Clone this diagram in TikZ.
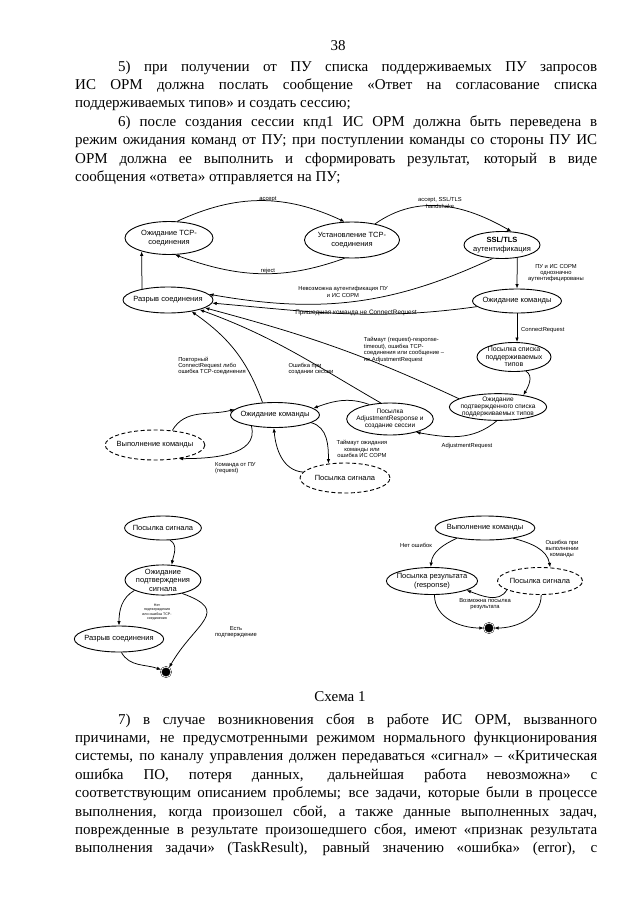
\documentclass[tikz,border=0pt]{standalone}
\usepackage{fontspec}
\setmainfont{Liberation Serif}
\newfontfamily\schemefont{Liberation Sans}
\usetikzlibrary{shapes.geometric,arrows.meta}

\begin{document}
\begin{tikzpicture}[x=1pt,y=1pt,
    sost/.style={ellipse,draw,line width=0.9pt,inner xsep=-3pt,inner ysep=-0.5pt,align=center,
      font=\schemefont\fontsize{7.5}{8.5}\selectfont},
    dsost/.style={sost,dash pattern=on 4pt off 2.5pt},
    lbl/.style={inner sep=0pt,align=center,font=\schemefont\fontsize{5.8}{6.4}\selectfont},
    tr/.style={-{Latex[length=4.5pt,width=3.5pt]},line width=0.75pt},
    fin/.style={circle,fill=black,draw=black,double=white,double distance=0.8pt,
      minimum size=10pt,inner sep=0pt},
    body/.style={anchor=north west,inner sep=0pt,text width=522pt,align=justify,
      font=\fontsize{15}{18.4}\selectfont}]
  \useasboundingbox (0,0) rectangle (640,-905);

  % page text
  \node[anchor=base] (pagenum) at (338,-50) {\fontsize{15}{18}\selectfont 38};
  \node[body] (textabove) at (75,-58) {\tolerance=9999\hbadness=10000\hyphenpenalty=10000
    \strut\hspace*{43pt}5)\ при получении от ПУ списка поддерживаемых ПУ запросов\linebreak
    ИС ОРМ должна послать сообщение «Ответ на согласование списка\linebreak
    поддерживаемых типов» и создать сессию;\par
    \hspace*{43pt}6)\ после создания сессии кпд1 ИС ОРМ должна быть переведена в\linebreak
    режим ожидания команд от ПУ; при поступлении команды со стороны ПУ ИС\linebreak
    ОРМ должна ее выполнить и сформировать результат, который в виде\linebreak
    сообщения «ответа» отправляется на ПУ;\par};

  % upper scheme
  \node[sost,minimum width=88pt,minimum height=33pt] (tcpwait) at (169,-238) {Ожидание TCP-\\соединения};
  \node[sost,minimum width=95pt,minimum height=36pt] (tcpest) at (352,-240) {Установление TCP-\\соединения};
  \node[sost,minimum width=76pt,minimum height=27pt] (ssl) at (502,-245) {\textbf{SSL/TLS}\\аутентификация};
  \node[sost,minimum width=90pt,minimum height=26pt] (brk) at (168,-300) {Разрыв соединения};
  \node[sost,minimum width=84pt,minimum height=24pt] (cmdwait) at (517,-301) {Ожидание команды};
  \node[sost,minimum width=74pt,minimum height=29pt,
    font=\schemefont\fontsize{7}{7.4}\selectfont] (sendlist) at (514,-357) {Посылка списка\\поддерживаемых\\типов};
  \node[sost,minimum width=88pt,minimum height=26pt,
    font=\schemefont\fontsize{6.5}{7}\selectfont] (confwait) at (498,-407) {Ожидание\\подтвержденного списка\\поддерживаемых типов};
  \node[sost,minimum width=80pt,minimum height=32pt,
    font=\schemefont\fontsize{6.5}{7}\selectfont] (adjresp) at (390,-419) {Посылка\\AdjustmentResponse и\\создание сессии};
  \node[sost,minimum width=84pt,minimum height=25pt] (cmdwait2) at (275,-415) {Ожидание команды};
  \node[dsost,minimum width=92pt,minimum height=30pt] (execcmd) at (155,-445) {Выполнение команды};
  \node[dsost,minimum width=90pt,minimum height=30pt] (sigsend) at (345,-478) {Посылка сигнала};

  \draw[tr] (tcpwait.64) to[out=25,in=155] (tcpest.112);
  \node[lbl] (laccept) at (268,-199) {accept};
  \draw[tr] (tcpest.248) to[out=200,in=-20] (tcpwait.290);
  \node[lbl] (lreject) at (268,-271) {reject};
  \draw[tr] (tcpest.35) to[out=35,in=150] (ssl.55);
  \node[lbl] (lhandshake) at (440,-203) {accept, SSL/TLS\\handshake};
  \draw[tr] (ssl.235) to[out=205,in=-10] (brk.8);
  \node[lbl] (lnoauth) at (343,-292) {Невозможна аутентификация ПУ\\и ИС СОРМ};
  \draw[tr] (ssl.-40) -- (cmdwait.north);
  \node[lbl] (lauth) at (556,-273) {ПУ и ИС СОРМ\\однозначно\\аутентифицированы};
  \draw[tr] (brk.157) -- (tcpwait.206);
  \draw[tr] (cmdwait.188) to[out=188,in=-5] (brk.-4);
  \node[lbl,anchor=south,font=\schemefont\fontsize{6.4}{7}\selectfont] (lnotcr) at (356,-316.5) {Пришедшая команда не ConnectRequest};
  \draw[tr] (cmdwait.south) -- (cmdwait.south |- sendlist.north);
  \node[lbl,anchor=west] (lcr) at (521,-330) {ConnectRequest};
  \draw[tr] (sendlist.-50) to[out=-30,in=60] (confwait.25);
  \draw[tr] (confwait.168) to[out=155,in=-15] (brk.-12);
  \node[lbl,align=left] (ltimeout) at (404,-350) {Таймаут (request)-response-\\timeout), ошибка TCP-\\соединения или сообщение –\\не AdjustmentRequest};
  \draw[tr] (adjresp.120) to[out=150,in=-20] (brk.-17);
  \node[lbl,align=left] (lsesserr) at (311,-369) {Ошибка при\\создании сессии};
  \draw[tr] (cmdwait2.135) to[out=110,in=-35] (brk.-26);
  \node[lbl,align=left] (lrepeat) at (212,-366) {Повторный\\ConnectRequest либо\\ошибка TCP-соединения};
  \draw[tr] (confwait.-95) to[out=-140,in=-10] (adjresp.-27);
  \node[lbl] (ladjreq) at (467,-446) {AdjustmentRequest};
  \draw[tr] (adjresp.145) to[out=160,in=20] (cmdwait2.10);
  \draw[tr] (execcmd.40) to[out=60,in=195] (cmdwait2.172);
  \draw[tr] (cmdwait2.-155) to[out=-75,in=0] (execcmd.-30);
  \node[lbl,align=left,anchor=west] (lcmdpu) at (215,-468) {Команда от ПУ\\(request)};
  \draw[tr] (cmdwait2.-12) to[out=-15,in=90] (sigsend.139);
  \node[lbl] (lcmdto) at (362,-449) {Таймаут ожидания\\команды или\\ошибка ИС СОРМ};
  \draw[tr] (sigsend.172) to[out=175,in=-85] (cmdwait2.-95);

  % lower left scheme
  \node[sost,minimum width=76pt,minimum height=24pt] (lsig) at (163,-528) {Посылка сигнала};
  \node[sost,minimum width=76pt,minimum height=30pt] (lconf) at (163,-580) {Ожидание\\подтверждения\\сигнала};
  \node[sost,minimum width=84pt,minimum height=26pt] (lbrk) at (119,-639) {Разрыв соединения};
  \node[fin] (lfin) at (166,-672) {};
  \draw[tr] (lsig.-60) to[out=-30,in=80] (lconf.60);
  \draw[tr] (lconf.-160) to[out=-150,in=90] (lbrk.north);
  \node[lbl,font=\schemefont\fontsize{3.6}{4.4}\selectfont] (lnoconf) at (157,-612) {Нет\\подтверждения\\или ошибка TCP-\\соединения};
  \draw[tr] (lbrk.-80) to[out=-60,in=160] (lfin.155);
  \draw[tr] (lconf.-35) to[out=-20,in=60,looseness=1.8] (lfin.55);
  \node[lbl] (lyesconf) at (236,-632) {Есть\\подтверждение};

  % lower right scheme
  \node[sost,minimum width=84pt,minimum height=24pt] (rexec) at (485,-528) {Выполнение команды};
  \node[sost,minimum width=90pt,minimum height=27pt] (rres) at (432,-581) {Посылка результата\\(response)};
  \node[dsost,minimum width=85pt,minimum height=27pt] (rsig) at (540,-581) {Посылка сигнала};
  \node[fin] (rfin) at (489,-628) {};
  \draw[tr] (rexec.-160) to[out=205,in=85] (rres.95);
  \node[lbl] (lnoerr) at (416,-545) {Нет ошибок};
  \draw[tr] (rexec.-20) to[out=-15,in=100] (rsig.53);
  \node[lbl] (lexecerr) at (562,-549) {Ошибка при\\выполнении\\команды};
  \draw[tr] (rsig.-165) to[out=-120,in=-20] (rres.-15);
  \node[lbl] (lcanres) at (485,-604) {Возможна посылка\\результата};
  \draw[tr] (rres.-80) to[out=-90,in=180] (rfin.west);
  \draw[tr] (rsig.-85) to[out=-90,in=0] (rfin.east);

  % caption and text below
  \node[anchor=base] (caption) at (340,-701) {\fontsize{15}{18}\selectfont Схема 1};
  \node[body] (textbelow) at (75,-711) {\tolerance=9999\hbadness=10000\hyphenpenalty=10000
    \strut\hspace*{43pt}7)\ в случае возникновения сбоя в работе ИС ОРМ, вызванного\linebreak
    причинами, не предусмотренными режимом нормального функционирования\linebreak
    системы, по каналу управления должен передаваться «сигнал» – «Критическая\linebreak
    ошибка ПО, потеря данных, дальнейшая работа невозможна» с\linebreak
    соответствующим описанием проблемы; все задачи, которые были в процессе\linebreak
    выполнения, когда произошел сбой, а также данные выполненных задач,\linebreak
    поврежденные в результате произошедшего сбоя, имеют «признак результата\linebreak
    выполнения задачи» (TaskResult), равный значению «ошибка» (error), с\linebreak\par};
\end{tikzpicture}
\end{document}
